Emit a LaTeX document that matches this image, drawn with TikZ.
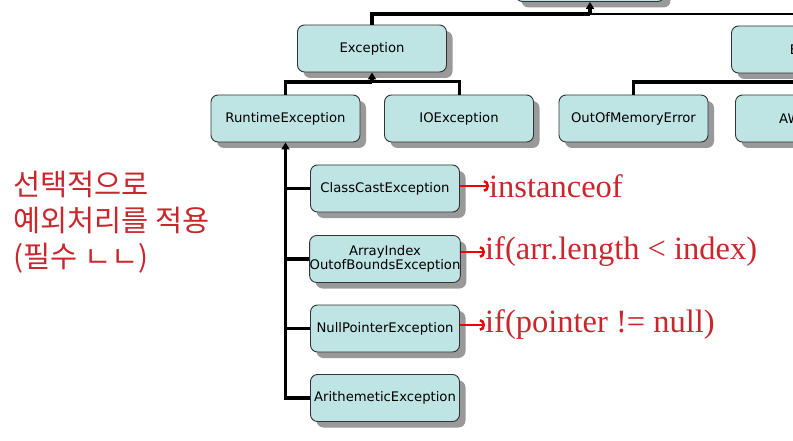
\documentclass[tikz,border=0pt]{standalone}
\usepackage{fontspec}
\setmainfont{Liberation Serif}
\newfontfamily\cjk{Noto Sans CJK KR}
\newfontfamily\boxfont{DejaVu Sans}
\usetikzlibrary{arrows.meta,shadows}
\definecolor{boxfill}{RGB}{191,228,228}
\definecolor{notered}{RGB}{200,40,45}
\definecolor{arrred}{RGB}{240,0,0}
\begin{document}
\begin{tikzpicture}[x=1pt,y=-1pt,
  cls/.style={draw=black!80, line width=0.9pt, fill=boxfill, rounded corners=7pt,
    minimum width=149pt, minimum height=47pt, inner sep=0pt, align=center,
    font=\boxfont\fontsize{13.2}{14.5}\selectfont,
    drop shadow={shadow xshift=6pt, shadow yshift=-6pt, fill=black!40, opacity=1}},
  inh/.style={line width=3.5pt, -{Triangle[length=7pt,width=8pt]}},
  branch/.style={line width=#1},
  branch/.default=3pt,
  redarr/.style={draw=arrred, line width=2.5pt, -{Arc Barb[length=5pt,width=12pt]}},
  note/.style={text=notered, font=\fontsize{32.5}{36}\selectfont, anchor=west, inner sep=0pt},
]
\useasboundingbox (0,0) rectangle (793,441);
\clip (0,0) rectangle (793,441);

% nodes
\node[cls] (thr) at (590,-22) {};
\node[cls] (exc) at (372,48.5) {Exception};
\node[cls] (err) at (806,49.5) {Error};
\node[cls] (rte) at (285.5,118.5) {RuntimeException};
\node[cls] (ioe) at (459,118.5) {IOException};
\node[cls] (oom) at (633.5,118.5) {OutOfMemoryError};
\node[cls] (awt) at (810,118.5) {AWTError};
\node[cls] (ccx) at (385,188.5) {ClassCastException};
\node[cls] (aio) at (385,259) {ArrayIndex\\[-1pt]OutofBoundsException};
\node[cls] (npe) at (385,328.5) {NullPointerException};
\node[cls] (ari) at (385,398) {ArithemeticException};

% junctions
\coordinate (tj) at (590,14);
\coordinate (ej) at (372,82);
\coordinate (erj) at (806,82);

% top level
\draw[line width=3.5pt] (exc.north) |- (tj);
\draw[line width=2.2pt] (err.north) |- (tj);
\draw[inh] (tj) -- (thr.south);

% Exception children
\draw[line width=3.5pt] (rte.north) |- (ej);
\draw[line width=3pt] (ioe.north) |- (ej);
\draw[inh] (ej) -- (exc.south);

% Error children
\draw[line width=3.5pt] (oom.north) |- (erj);
\draw[line width=3.5pt] (awt.north) |- (erj);
\draw[inh] (erj) -- (err.south);

% RuntimeException children
\draw[inh] (ari.west) -| (rte.south);
\draw[branch=2.2pt] (ccx.west) -- (ccx.west -| rte.south);
\draw[branch=4pt] (aio.west) -- (aio.west -| rte.south);
\draw[branch=3pt] (npe.west) -- (npe.west -| rte.south);

% notes
\node[note] (n1) at (489,186) {instanceof};
\node[note] (n2) at (485,252) {if(arr.length < index)};
\node[note] (n3) at (485,325) {if(pointer != null)};
\draw[redarr] (ccx.east |- n1.west) -- (n1.west);
\draw[redarr] (aio.east |- n2.west) -- (n2.west);
\draw[redarr] (npe.east |- n3.west) -- (n3.west);

\node[anchor=west, align=left, inner sep=0pt, text=notered,
  font=\cjk\fontsize{29.5}{36}\selectfont] (kr) at (13,222)
  {선택적으로\\예외처리를 적용\\(필수 ㄴㄴ)};
\end{tikzpicture}
\end{document}
